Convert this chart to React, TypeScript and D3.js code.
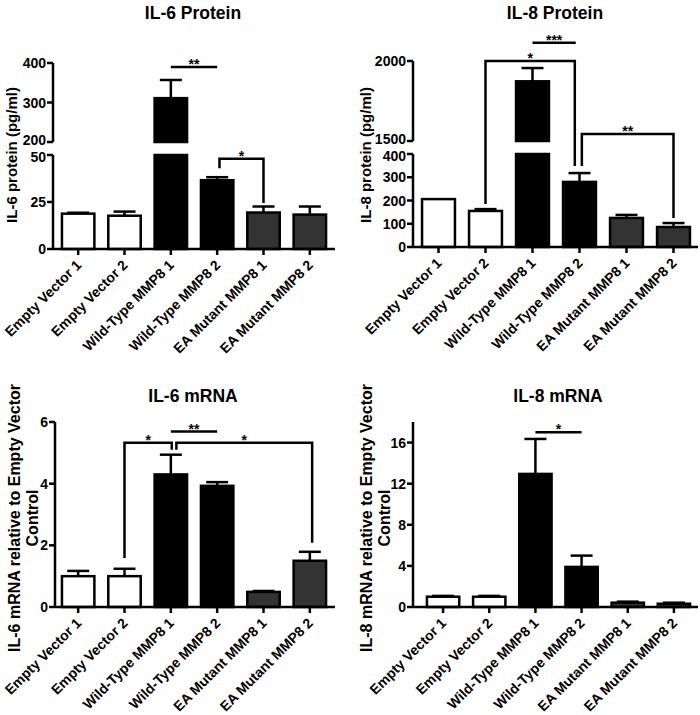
import React from "react";
import * as d3 from "d3";

// categorias e valores
const categories = [
  "Empty Vector 1",
  "Empty Vector 2",
  "Wild-Type MMP8 1",
  "Wild-Type MMP8 2",
  "EA Mutant MMP8 1",
  "EA Mutant MMP8 2",
];

const il6ProteinMean = [18.8, 17.7, 311, 36.6, 19.4, 18.3];
const il6ProteinErr = [0.5, 2.2, 46, 1.6, 3.2, 4.3];
const il6ProteinTicksUpper = [200, 300, 400];
const il6ProteinTicksLower = [0, 25, 50];

const il8ProteinMean = [206, 155, 1873, 280, 125, 86];
const il8ProteinErr = [0, 8, 83, 38, 13, 17];
const il8ProteinTicksUpper = [1500, 2000];
const il8ProteinTicksLower = [0, 100, 200, 300, 400];

const il6MrnaMean = [1.0, 1.0, 4.3, 3.93, 0.49, 1.5];
const il6MrnaErr = [0.17, 0.24, 0.64, 0.12, 0.03, 0.29];
const il6MrnaTicks = [0, 2, 4, 6];

const il8MrnaMean = [1.0, 1.0, 12.95, 3.9, 0.42, 0.32];
const il8MrnaErr = [0.08, 0.08, 3.4, 1.1, 0.1, 0.1];
const il8MrnaTicks = [0, 4, 8, 12, 16];

type Sig = {
  from: number;
  to: number;
  level: number;
  fromEnd?: number;
  toEnd?: number;
  label: string;
};

// significância (índices de categoria e valores do eixo y)
const il6ProteinSigs: Sig[] = [
  { from: 2, to: 3, level: 390, label: "**" },
  { from: 3.05, to: 4, level: 48, fromEnd: 43, toEnd: 24.5, label: "*" },
];
const il8ProteinSigs: Sig[] = [
  { from: 1, to: 2.9, level: 2000, fromEnd: 185, toEnd: 348, label: "*" },
  { from: 2, to: 2.92, level: 2114, label: "***" },
  { from: 3.05, to: 5, level: 1544, fromEnd: 348, toEnd: 125, label: "**" },
];
const il6MrnaSigs: Sig[] = [
  { from: 1, to: 2.02, level: 5.33, fromEnd: 1.59, toEnd: 5.1, label: "*" },
  { from: 2, to: 3, level: 5.69, label: "**" },
  { from: 2.12, to: 5.05, level: 5.33, fromEnd: 5.1, toEnd: 2.08, label: "*" },
];
const il8MrnaSigs: Sig[] = [{ from: 2, to: 3, level: 17, label: "*" }];

const FILLS = ["#ffffff", "#ffffff", "#000000", "#000000", "#333333", "#333333"];
const FONT = "'Liberation Sans', Arial, sans-serif";
const SW = 2.5;

interface PanelProps {
  title: string;
  yLabel: string[];
  yLabelSize: number;
  means: number[];
  errs: number[];
  sigs: Sig[];
  lowerDomain: [number, number];
  lowerTicks: number[];
  upperDomain?: [number, number];
  upperTicks?: number[];
  axisX: number;
  rangeStart: number;
  right: number;
  axisEnd: number;
  top: number;
  bottom: number;
  breakLow?: number;
  breakHigh?: number;
  titleX: number;
  titleY: number;
  yLabelX: number[];
  yLabelY: number;
}

const Panel: React.FC<PanelProps> = (p) => {
  const x = d3
    .scaleBand<string>()
    .domain(categories)
    .range([p.rangeStart, p.right])
    .paddingInner(0.3)
    .paddingOuter(0.15);
  const bw = x.bandwidth();
  const cx = (i: number) => (x(categories[0]) || 0) + bw / 2 + i * x.step();

  const broken = !!p.upperDomain;
  const yLow = d3
    .scaleLinear()
    .domain(p.lowerDomain)
    .range([p.bottom, broken ? (p.breakLow as number) : p.top]);
  const yUp = broken
    ? d3
        .scaleLinear()
        .domain(p.upperDomain as [number, number])
        .range([p.breakHigh as number, p.top])
    : null;
  const y = (v: number) => (yUp && v > p.lowerDomain[1] ? yUp(v) : yLow(v));

  const axisSegs: [number, number][] = broken
    ? [
        [p.top, p.breakHigh as number],
        [p.breakLow as number, p.bottom],
      ]
    : [[p.top, p.bottom]];

  // rótulos junto à quebra afastados um pouco para não se sobreporem
  const ticks: { v: number; y: number; dy: number }[] = [
    ...p.lowerTicks.map((v) => ({
      v,
      y: yLow(v),
      dy: broken && v === p.lowerDomain[1] ? 2 : 0,
    })),
    ...(yUp && p.upperTicks
      ? p.upperTicks.map((v) => ({ v, y: yUp(v), dy: v === p.upperDomain![0] ? -2 : 0 }))
      : []),
  ];

  return (
    <g fontFamily={FONT} fontWeight="bold">
      <text x={p.titleX} y={p.titleY} textAnchor="middle" fontSize={17.5}>
        {p.title}
      </text>
      {p.yLabel.map((t, k) => (
        <text
          key={k}
          transform={`translate(${p.yLabelX[k]},${p.yLabelY}) rotate(-90)`}
          textAnchor="middle"
          fontSize={p.yLabelSize}
        >
          {t}
        </text>
      ))}

      {/* barras */}
      {p.means.map((m, i) => {
        const x0 = x(categories[i]) || 0;
        if (yUp && m > p.lowerDomain[1]) {
          return (
            <g key={i}>
              <rect
                x={x0}
                y={yLow(p.lowerDomain[1])}
                width={bw}
                height={p.bottom - yLow(p.lowerDomain[1])}
                fill={FILLS[i]}
                stroke="#000"
                strokeWidth={SW}
              />
              <rect
                x={x0}
                y={yUp(m)}
                width={bw}
                height={yUp(p.upperDomain![0]) - yUp(m)}
                fill={FILLS[i]}
                stroke="#000"
                strokeWidth={SW}
              />
            </g>
          );
        }
        return (
          <rect
            key={i}
            x={x0}
            y={y(m)}
            width={bw}
            height={p.bottom - y(m)}
            fill={FILLS[i]}
            stroke="#000"
            strokeWidth={SW}
          />
        );
      })}

      {/* barras de erro */}
      {p.means.map((m, i) => {
        if (p.errs[i] <= 0) return null;
        const c = cx(i);
        const yt = y(m + p.errs[i]);
        return (
          <g key={i} stroke="#000" strokeWidth={SW}>
            <line x1={c} x2={c} y1={y(m)} y2={yt} />
            <line x1={c - 11} x2={c + 11} y1={yt} y2={yt} />
          </g>
        );
      })}

      {/* eixo y */}
      {axisSegs.map(([a, b], k) => (
        <line key={k} x1={p.axisX} x2={p.axisX} y1={a} y2={b} stroke="#000" strokeWidth={SW} />
      ))}
      {ticks.map((t, k) => (
        <g key={k}>
          <line x1={p.axisX - 6} x2={p.axisX} y1={t.y} y2={t.y} stroke="#000" strokeWidth={SW} />
          <text x={p.axisX - 7} y={t.y + t.dy} dy="0.36em" textAnchor="end" fontSize={14}>
            {t.v}
          </text>
        </g>
      ))}

      {/* eixo x */}
      <line x1={p.axisX} x2={p.axisEnd} y1={p.bottom} y2={p.bottom} stroke="#000" strokeWidth={SW} />
      {categories.map((c, i) => (
        <g key={c}>
          <line x1={cx(i)} x2={cx(i)} y1={p.bottom} y2={p.bottom + 6} stroke="#000" strokeWidth={SW} />
          <text
            transform={`translate(${cx(i) + 4},${p.bottom + 17}) rotate(-45)`}
            textAnchor="end"
            fontSize={14}
          >
            {c}
          </text>
        </g>
      ))}

      {/* significância */}
      {p.sigs.map((s, k) => {
        const xa = cx(s.from);
        const xb = cx(s.to);
        const yl = y(s.level);
        const pts: [number, number][] = [];
        if (s.fromEnd !== undefined) pts.push([xa, y(s.fromEnd)]);
        pts.push([xa, yl], [xb, yl]);
        if (s.toEnd !== undefined) pts.push([xb, y(s.toEnd)]);
        const path = d3.line()(pts) || "";
        return (
          <g key={k}>
            <path d={path} fill="none" stroke="#000" strokeWidth={SW} />
            <text x={(xa + xb) / 2} y={yl + 2} textAnchor="middle" fontSize={14}>
              {s.label}
            </text>
          </g>
        );
      })}
    </g>
  );
};

const App: React.FC = () => {
  return (
    <svg
      width={700}
      height={715}
      style={{ position: "absolute", left: 0, top: 0, background: "#fff" }}
    >
      <Panel
        title="IL-6 Protein"
        yLabel={["IL-6 protein (pg/ml)"]}
        yLabelSize={15}
        means={il6ProteinMean}
        errs={il6ProteinErr}
        sigs={il6ProteinSigs}
        lowerDomain={[0, 50]}
        lowerTicks={il6ProteinTicksLower}
        upperDomain={[200, 400]}
        upperTicks={il6ProteinTicksUpper}
        axisX={53}
        rangeStart={55}
        right={333}
        axisEnd={335}
        top={63}
        bottom={249}
        breakLow={155}
        breakHigh={142}
        titleX={193}
        titleY={18.5}
        yLabelX={[17]}
        yLabelY={155}
      />
      <Panel
        title="IL-8 Protein"
        yLabel={["IL-8 protein (pg/ml)"]}
        yLabelSize={15}
        means={il8ProteinMean}
        errs={il8ProteinErr}
        sigs={il8ProteinSigs}
        lowerDomain={[0, 400]}
        lowerTicks={il8ProteinTicksLower}
        upperDomain={[1500, 2000]}
        upperTicks={il8ProteinTicksUpper}
        axisX={413}
        rangeStart={415}
        right={697}
        axisEnd={698}
        top={61}
        bottom={247}
        breakLow={154}
        breakHigh={141}
        titleX={555}
        titleY={18.5}
        yLabelX={[371]}
        yLabelY={155}
      />
      <Panel
        title="IL-6 mRNA"
        yLabel={["IL-6 mRNA relative to Empty Vector", "Control"]}
        yLabelSize={16}
        means={il6MrnaMean}
        errs={il6MrnaErr}
        sigs={il6MrnaSigs}
        lowerDomain={[0, 6]}
        lowerTicks={il6MrnaTicks}
        axisX={55}
        rangeStart={55}
        right={333}
        axisEnd={335}
        top={422}
        bottom={607}
        titleX={193}
        titleY={402}
        yLabelX={[20, 38]}
        yLabelY={518}
      />
      <Panel
        title="IL-8 mRNA"
        yLabel={["IL-8 mRNA relative to Empty Vector", "Control"]}
        yLabelSize={16}
        means={il8MrnaMean}
        errs={il8MrnaErr}
        sigs={il8MrnaSigs}
        lowerDomain={[0, 18]}
        lowerTicks={il8MrnaTicks}
        axisX={413}
        rangeStart={420}
        right={697}
        axisEnd={698}
        top={422}
        bottom={607}
        titleX={558}
        titleY={402}
        yLabelX={[372, 390]}
        yLabelY={518}
      />
    </svg>
  );
};

export default App;
